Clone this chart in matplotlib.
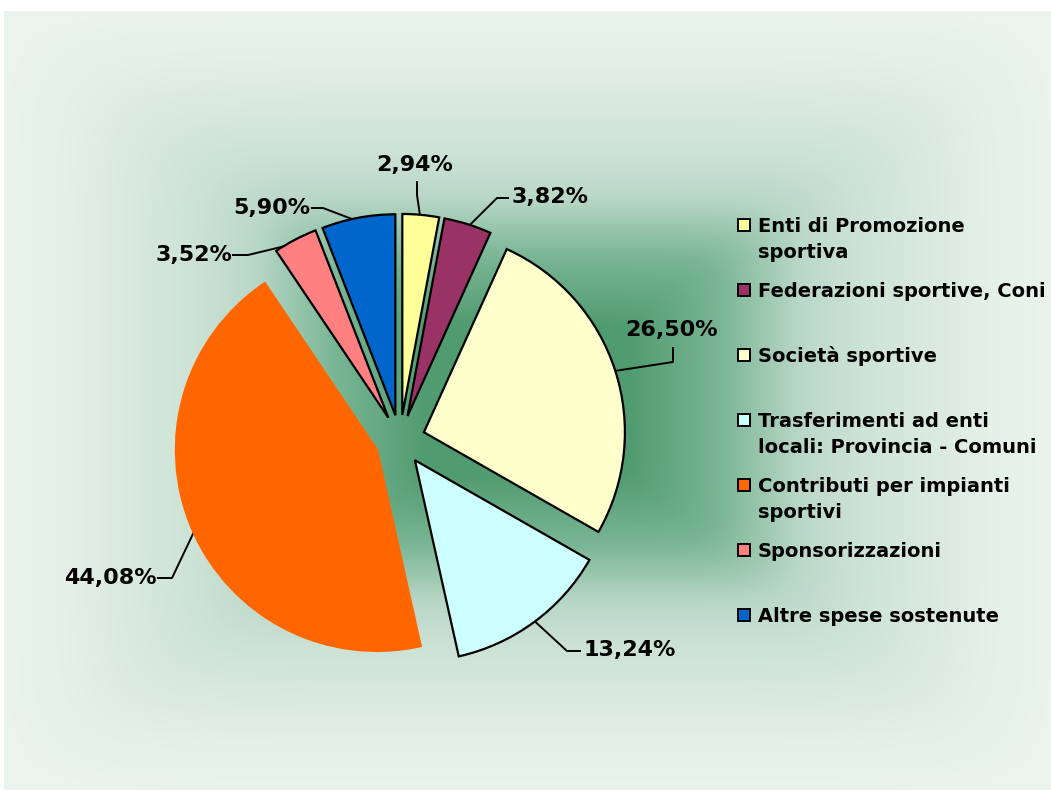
import numpy as np
import matplotlib.pyplot as plt
from matplotlib.patches import Rectangle

# data
labels = ["Enti di Promozione\nsportiva",
          "Federazioni sportive, Coni",
          "Società sportive",
          "Trasferimenti ad enti\nlocali: Provincia - Comuni",
          "Contributi per impianti\nsportivi",
          "Sponsorizzazioni",
          "Altre spese sostenute"]
values = [2.94, 3.82, 26.50, 13.24, 44.08, 3.52, 5.90]
colors = ["#FFFF99", "#993366", "#FFFFCC", "#CCFFFF", "#FF6600", "#FF8080", "#0066CC"]

W, H = 1051, 791
fig = plt.figure(figsize=(W / 100, H / 100), dpi=100, facecolor="white")

# background axes in pixel units (y up)
ax = fig.add_axes([0, 0, 1, 1])
ax.set_xlim(0, W)
ax.set_ylim(0, H)
ax.axis("off")

# rectangular "from center" gradient (slightly softened corners)
x0, x1, y0, y1 = 4, W, 1, 780
gx = np.linspace(-1, 1, x1 - x0)
gy = np.linspace(-1, 1, y1 - y0)
X, Y = np.meshgrid(gx, gy)
t = np.minimum((np.abs(X) ** 10 + np.abs(Y) ** 10) ** 0.1, 1.0)
tp = [0.0, 0.2, 0.37, 0.52, 0.64, 0.72, 0.9, 1.0]
rs = [76, 82, 122, 185, 205, 213, 230, 234]
gs = [152, 156, 182, 215, 227, 231, 241, 243]
bs = [108, 113, 149, 198, 214, 220, 234, 238]
img = np.dstack([np.interp(t, tp, rs), np.interp(t, tp, gs), np.interp(t, tp, bs)]) / 255.0
ax.imshow(img, extent=(x0, x1, y0, y1), origin="lower", aspect="auto", interpolation="bilinear", zorder=0)

# pie axes: centre at pixel (400, 440 from top), radius 201 px
cx, cy, R = 400, H - 440, 201
side = 2.5 * R
axp = fig.add_axes([(cx - side / 2) / W, (cy - side / 2) / H, side / W, side / H])
axp.patch.set_visible(False)
wedges, _ = axp.pie(values, colors=colors, startangle=90, counterclock=False,
                    explode=[0.125] * len(values),
                    wedgeprops=dict(edgecolor="black", linewidth=1.6))
wedges[4].set_edgecolor("#FF6600")
axp.set_xlim(-1.25, 1.25)
axp.set_ylim(-1.25, 1.25)
axp.axis("off")

# label layout (pixels from top-left): text pos, alignment, line end, elbow
lab_pos = [(415, 165, "center"), (512, 197, "left"), (672, 330, "center"),
           (583, 650, "left"), (157, 578, "right"), (232, 255, "right"), (310, 208, "right")]
line_end = [(417, 182), (508, 198), (673, 348), (580, 651), (158, 578), (233, 255), (312, 208)]
elbow = [(417, 195), (497, 198), (673, 362), (567, 651), (172, 578), (248, 255), (323, 208)]

to_px = axp.transData
for i, w in enumerate(wedges):
    th = np.deg2rad((w.theta1 + w.theta2) / 2)
    px, py = to_px.transform((w.center[0] + 0.98 * w.r * np.cos(th), w.center[1] + 0.98 * w.r * np.sin(th)))
    ex, ey = line_end[i]
    bx, by = elbow[i]
    ax.plot([ex, bx, px], [H - ey, H - by, py], color="black", lw=1.4, zorder=5)
    tx, ty, ha = lab_pos[i]
    ax.text(tx, H - ty, ("%.2f%%" % values[i]).replace(".", ","), ha=ha, va="center",
            fontsize=16, fontweight="bold", family="DejaVu Sans", zorder=6)

# legend
for i, lab in enumerate(labels):
    my = H - (224 + 65 * i)
    ax.add_patch(Rectangle((738, my - 6.5), 12, 12, facecolor=colors[i], edgecolor="black", lw=1.4, zorder=5))
    for k, line in enumerate(lab.split("\n")):
        ax.text(758, my - 8 - 26 * k, line, ha="left", va="baseline", fontsize=14,
                fontweight="bold", family="DejaVu Sans", zorder=6)

fig.savefig("out.png", dpi=100, facecolor="white")
